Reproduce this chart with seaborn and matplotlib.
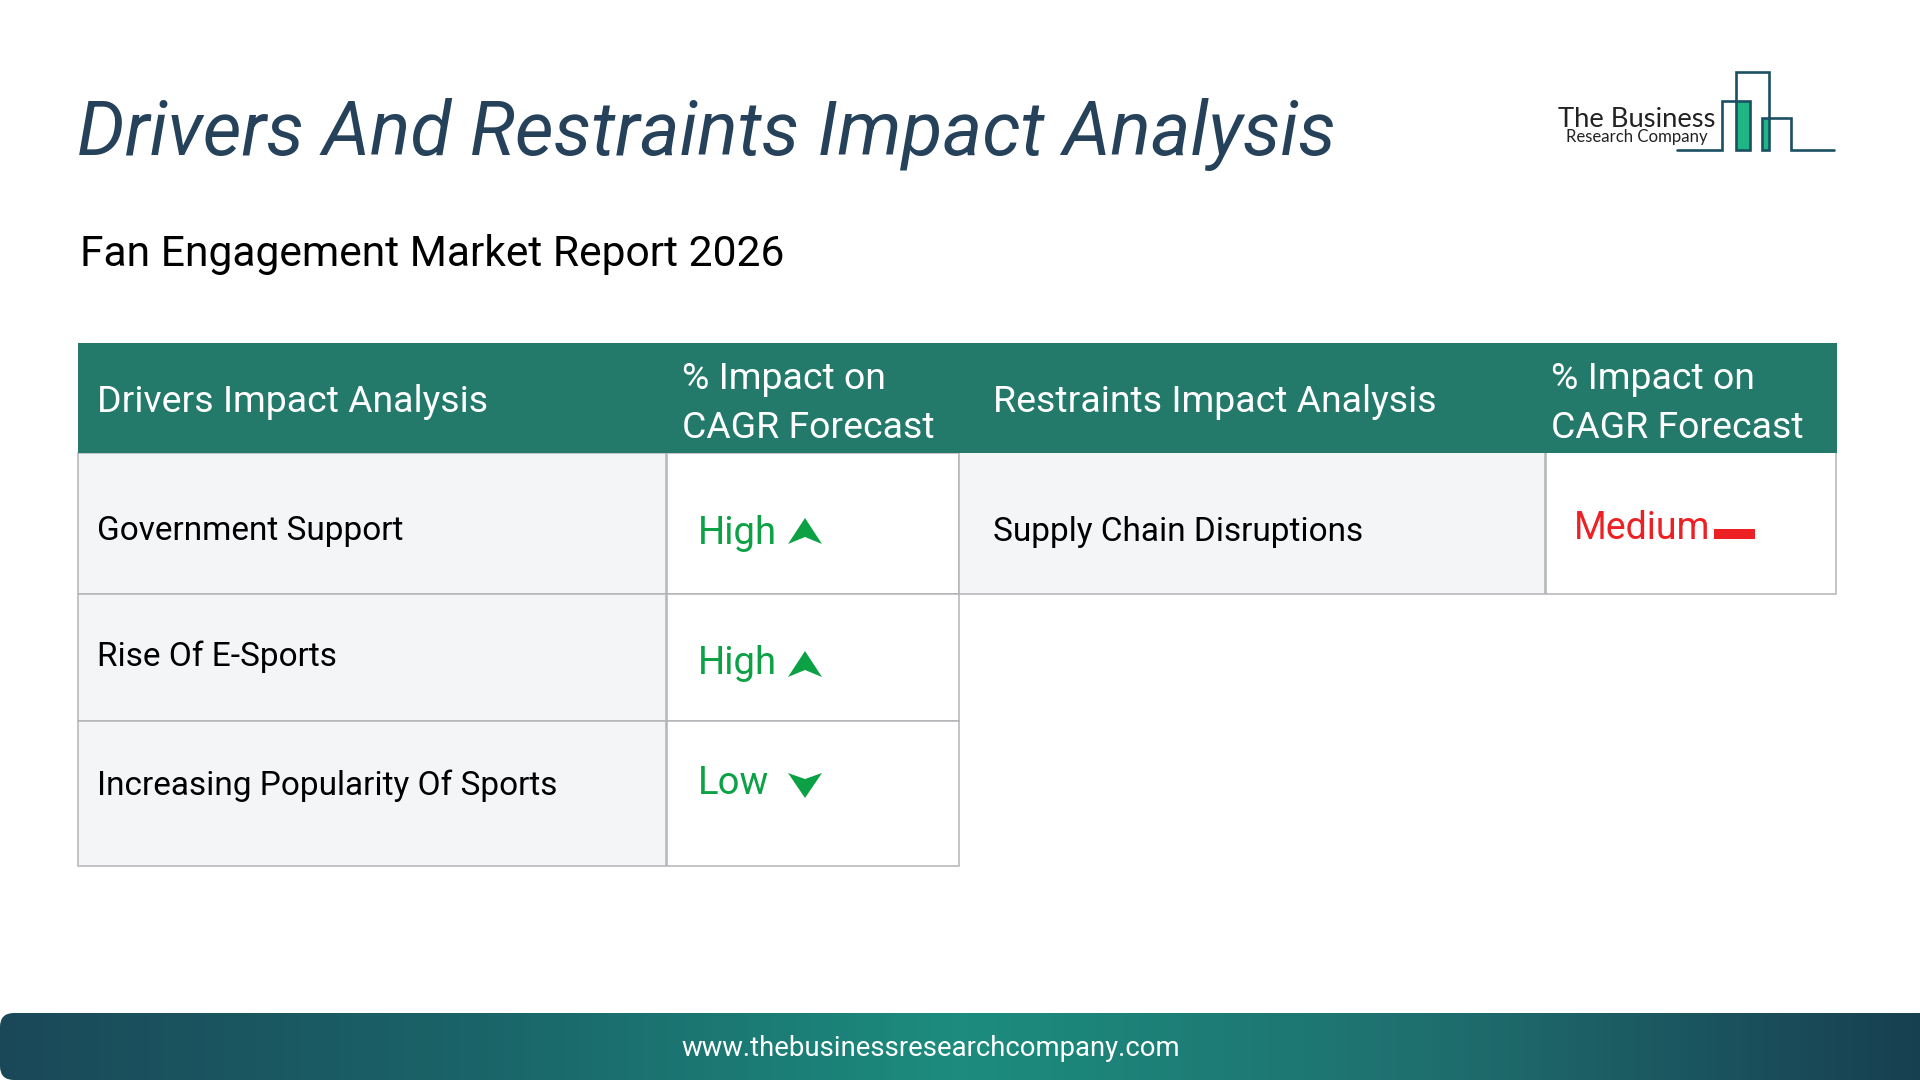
import numpy as np
import pandas as pd
import matplotlib.pyplot as plt
from matplotlib.patches import Rectangle, Polygon, FancyBboxPatch
import seaborn as sns

title = 'Drivers And Restraints Impact Analysis'
subtitle = 'Fan Engagement Market Report 2026'
website = 'www.thebusinessresearchcompany.com'

driver_names = ['Government Support', 'Rise Of E-Sports', 'Increasing Popularity Of Sports']
driver_levels = ['High', 'High', 'Low']
restraint_names = ['Supply Chain Disruptions']
restraint_levels = ['Medium']
header_driver = 'Drivers Impact Analysis'
header_restraint = 'Restraints Impact Analysis'
header_impact = ['% Impact on', 'CAGR Forecast']

# pixel layout of the slide
row_edges = [453, 594, 721, 866]
name_baselines = [540, 666, 795]
level_baselines = [544, 674, 794]
arrow_baselines = [544, 677, 793]
right_row = (452, 594)

footer_colors = ['#1a4858', '#1a6468', '#1c8c7e', '#1e6e6e', '#173f50']

green = '#0ba144'
red = '#ed2024'
teal = '#237a6b'
cell_bg = '#f3f5f7'
line_gray = '#b4b4b8'
text_kw = dict(va='baseline', ha='left')

sns.set_theme(style='white')
plt.rcParams['font.family'] = ['Roboto', 'DejaVu Sans']

fig = plt.figure(figsize=(19.2, 10.8), dpi=100)
ax = fig.add_axes([0, 0, 1, 1])
ax.set_xlim(0, 1920)
ax.set_ylim(1080, 0)
ax.axis('off')

ax.text(77, 155, title, fontsize=54.2, style='italic', color='#26415a', **text_kw)
ax.text(80, 266, subtitle, fontsize=30.7, color='black', **text_kw)


def cell(x0, x1, y0, y1, face):
    ax.add_patch(Rectangle((x0, y0), x1 - x0, y1 - y0, facecolor=face,
                           edgecolor=line_gray, linewidth=1.1, zorder=1))


# header band
ax.add_patch(Rectangle((78, 343), 1759, 110, facecolor=teal, edgecolor='none', zorder=3))
ax.text(97, 412, header_driver, fontsize=26.9, color='white', zorder=4, **text_kw)
ax.text(993, 412, header_restraint, fontsize=26.9, color='white', zorder=4, **text_kw)
for x in [682, 1551]:
    ax.text(x, 389, header_impact[0], fontsize=26.9, color='white', zorder=4, **text_kw)
    ax.text(x, 438, header_impact[1], fontsize=26.9, color='white', zorder=4, **text_kw)


def arrow(level, base):
    if level == 'High':
        pts = [(805, base - 26), (822, base), (805, base - 7), (788, base)]
    else:
        pts = [(805, base + 5), (822, base - 20), (805, base - 14), (788, base - 20)]
    ax.add_patch(Polygon(pts, closed=True, facecolor=green, edgecolor='none', zorder=4))


# drivers table
drivers = pd.DataFrame({'name': driver_names, 'level': driver_levels})
for i, row in drivers.iterrows():
    y0, y1 = row_edges[i], row_edges[i + 1]
    cell(78, 666, y0, y1, cell_bg)
    cell(667, 959, y0, y1, 'white')
    ax.text(97, name_baselines[i], row['name'], fontsize=24, color='black', zorder=4, **text_kw)
    ax.text(698, level_baselines[i], row['level'], fontsize=27.5, color=green, zorder=4, **text_kw)
    arrow(row['level'], arrow_baselines[i])

# restraints table
for name, level in zip(restraint_names, restraint_levels):
    cell(959, 1545, right_row[0], right_row[1], cell_bg)
    cell(1546, 1836, right_row[0], right_row[1], 'white')
    ax.text(993, 541, name, fontsize=24, color='black', zorder=4, **text_kw)
    ax.text(1574, 539, level, fontsize=27, color=red, zorder=4, **text_kw)
    ax.add_patch(Rectangle((1714, 529), 41, 10, facecolor=red, edgecolor='none', zorder=4))

# logo
logo_x = [1677, 1722, 1722, 1750, 1750, 1736, 1736, 1769, 1769, 1762, 1762, 1791, 1791, 1834]
logo_y = [150, 150, 101, 101, 150, 150, 72, 72, 150, 150, 118, 118, 150, 150]
ax.add_patch(Rectangle((1736, 101), 14, 49, facecolor='#1fb585', edgecolor='none', zorder=2))
ax.add_patch(Rectangle((1762, 118), 7, 32, facecolor='#1fb585', edgecolor='none', zorder=2))
ax.plot(logo_x, logo_y, color='#1b5063', linewidth=1.9, solid_joinstyle='miter', zorder=3)
ax.text(1558, 127, 'The Business', fontsize=19.7, color='#222222',
        family=['Lato', 'DejaVu Sans'], **text_kw)
ax.text(1566, 142, 'Research Company', fontsize=12.1, color='#222222',
        family=['Lato', 'DejaVu Sans'], **text_kw)

# footer gradient, left end rounded only
footer_ax = fig.add_axes([0, 0, 1, 67 / 1080])
cmap = sns.blend_palette(footer_colors, n_colors=256, as_cmap=True)
sns.heatmap(np.arange(256).reshape(1, -1), ax=footer_ax, cmap=cmap, cbar=False,
            xticklabels=False, yticklabels=False)
clip = FancyBboxPatch((12, 1013 + 12), 1996, 67 - 24, boxstyle='round,pad=12,rounding_size=14',
                      facecolor='none', edgecolor='none', transform=ax.transData)
ax.add_patch(clip)
footer_ax.collections[0].set_clip_path(clip)
footer_ax.text(0.485, 0.47, website, transform=footer_ax.transAxes, fontsize=19.8, color='white',
               ha='center', va='center')

fig.savefig('out.png', dpi=100)
